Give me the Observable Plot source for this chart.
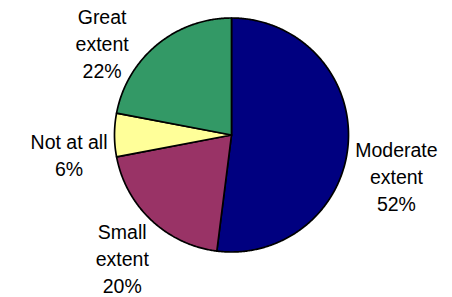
<!DOCTYPE html>
<html><head><meta charset="utf-8">
<script src="https://cdn.jsdelivr.net/npm/d3@7"></script>
<script src="https://cdn.jsdelivr.net/npm/@observablehq/plot@0.6"></script>
<style>html,body{margin:0;padding:0;background:#fff;} #chart{width:452px;height:297px;}</style>
</head><body><div id="chart"></div>
<script>
// ---- data ----
const categories = ["Moderate extent", "Small extent", "Not at all", "Great extent"];
const values = [52, 20, 6, 22];
const palette = ["#000080", "#993366", "#FFFF99", "#339966"];

// ---- layout ----
const W = 452, H = 297;
const R = 117, CX = 231, CY = 134.5;
const FS = 19.5, LH = 27, GAP = 7, WRAP = 90, TOP = 9, BOTTOM = H - 3;
const FONT = '"Liberation Sans", Arial, Helvetica, sans-serif';

const total = d3.sum(values);
const arcs = d3.pie().sort(null).value(d => d)(values);

// slice outlines (unit circle, angles from d3.pie)
const slicePts = [];
arcs.forEach((a, i) => {
  const cat = categories[i];
  slicePts.push({cat, x: 0, y: 0});
  const n = Math.max(2, Math.ceil((a.endAngle - a.startAngle) / (Math.PI / 360)));
  for (let k = 0; k <= n; ++k) {
    const t = a.startAngle + (a.endAngle - a.startAngle) * k / n;
    slicePts.push({cat, x: Math.sin(t), y: Math.cos(t)});
  }
});

// label placement outside the pie
const ctx = document.createElement("canvas").getContext("2d");
ctx.font = `${FS}px ${FONT}`;
const mw = s => ctx.measureText(s).width;
function wrap(text) {
  const words = text.split(" "); const lines = []; let cur = "";
  for (const w of words) {
    const t = cur ? cur + " " + w : w;
    if (cur && mw(t) > WRAP) { lines.push(cur); cur = w; } else cur = t;
  }
  if (cur) lines.push(cur);
  return lines;
}
const CAP = 0.72 * FS;
const labelRows = [];
arcs.forEach((a, i) => {
  const lines = [...wrap(categories[i]), Math.round(values[i] / total * 100) + "%"];
  const widths = lines.map(mw);
  const h = (lines.length - 1) * LH + CAP;
  const mid = (a.startAngle + a.endAngle) / 2;
  const sx = Math.sin(mid) >= 0 ? 1 : -1;
  const sy = -Math.cos(mid) >= 0 ? 1 : -1;
  let cy = CY - (R + GAP) * Math.cos(mid) + sy * h / 2;
  cy = Math.max(TOP + h / 2, Math.min(BOTTOM - h / 2, cy));
  const top = cy - h / 2;
  const rects = lines.map((s, j) => ({b: top + CAP + j * LH, w: widths[j]}));
  let off = 0;
  for (const r of rects) {
    const y0 = r.b - CAP, y1 = r.b;
    const dy = y0 > CY ? y0 - CY : y1 < CY ? CY - y1 : 0;
    const need = dy < R + GAP ? Math.sqrt((R + GAP) ** 2 - dy ** 2) : 0;
    off = Math.max(off, need + r.w / 2);
  }
  const cx = CX + sx * off;
  rects.forEach((r, j) => labelRows.push({text: lines[j], x: (cx - CX) / R, y: (CY - r.b) / R}));
});

const chart = Plot.plot({
  width: W, height: H,
  marginLeft: CX - R, marginRight: W - CX - R, marginTop: CY - R, marginBottom: H - CY - R,
  x: {domain: [-1, 1], axis: null},
  y: {domain: [-1, 1], axis: null},
  color: {domain: categories, range: palette},
  style: {background: "white", overflow: "visible"},
  marks: [
    Plot.line(slicePts, {x: "x", y: "y", z: "cat", fill: "cat", stroke: "black", strokeWidth: 1.7, curve: "linear-closed", strokeLinejoin: "round"}),
    Plot.text(labelRows, {x: "x", y: "y", text: "text", textAnchor: "middle", lineAnchor: "bottom", fontSize: FS, fontFamily: FONT, fill: "black"})
  ]
});
document.getElementById("chart").appendChild(chart);
</script>
</body></html>
